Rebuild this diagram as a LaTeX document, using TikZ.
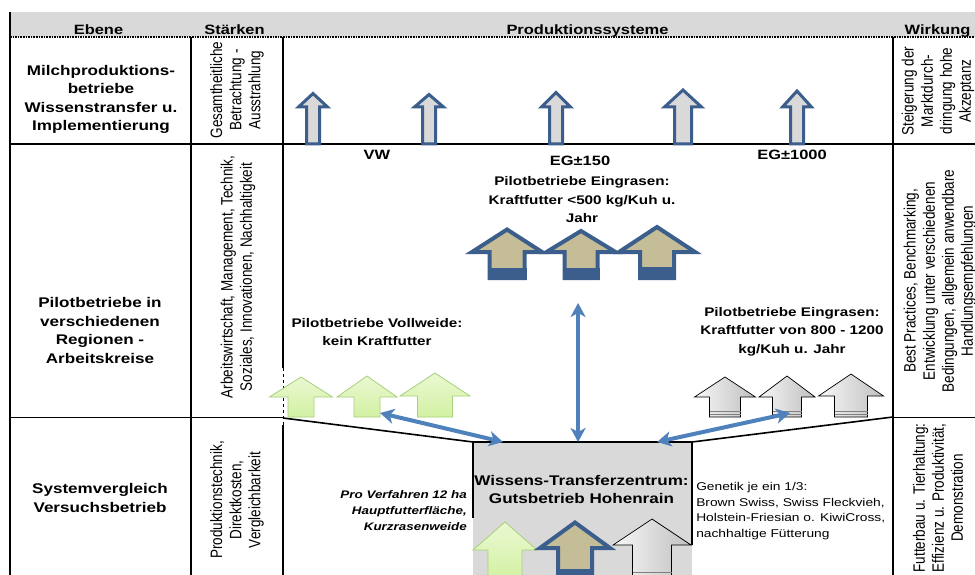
\documentclass[tikz,border=0pt]{standalone}
\usepackage{fontspec}
\setmainfont{Liberation Sans}
\usetikzlibrary{arrows.meta}
\definecolor{hdrgray}{HTML}{D9D9D9}
\definecolor{arrblue}{HTML}{3B5E8C}
\definecolor{tanfill}{HTML}{C4BD97}
\definecolor{connblue}{HTML}{4F81BD}
\definecolor{greenfill}{HTML}{D2F1A2}
\definecolor{greenlight}{HTML}{EAF8D2}
\definecolor{greenline}{HTML}{A6D07A}
\definecolor{boxgray}{HTML}{D9D9D9}

\newcommand\UpShape[7]{\path[#1] ({#2},{#3}) -- ({#2+#4},{#6}) -- ({#2+#5},{#6}) -- ({#2+#5},{#7}) -- ({#2-#5},{#7}) -- ({#2-#5},{#6}) -- ({#2-#4},{#6}) -- cycle;}

\tikzset{
  hdr/.style={font=\bfseries\fontsize{13.5}{16}\selectfont, inner sep=0pt, anchor=base},
  lvl/.style={font=\bfseries\fontsize{14}{18.5}\selectfont, align=center, inner sep=0pt},
  vtxt/.style={rotate=90, font=\fontsize{13.5}{15.6}\selectfont, align=center, inner sep=0pt},
  lab/.style={font=\bfseries\fontsize{12.5}{18.5}\selectfont, align=center, inner sep=0pt},
  sys/.style={font=\bfseries\fontsize{13.5}{16}\selectfont, inner sep=0pt, anchor=base},
  gentxt/.style={font=\fontsize{11.3}{15.5}\selectfont, align=left, inner sep=0pt, anchor=west},
  notetxt/.style={font=\bfseries\itshape\fontsize{11}{16}\selectfont, align=right, inner sep=0pt, anchor=east},
  heavy/.style={line width=2.2pt},
  thinrule/.style={line width=0.9pt},
  bluearr/.style={draw=arrblue, line width=3pt, fill=hdrgray, miter limit=20},
  tanarr/.style={draw=arrblue, line width=4pt, fill=tanfill, miter limit=20},
  greenarr/.style={draw=greenline, line width=0.8pt, top color=greenlight, bottom color=greenfill},
  grayarr/.style={draw=black, line width=0.7pt, left color=gray!6, right color=gray!50},
  conn/.style={draw=connblue, line width=4pt, {Stealth[length=14pt,width=15pt,inset=4pt]}-{Stealth[length=14pt,width=15pt,inset=4pt]}},
}

\begin{document}
\begin{tikzpicture}[x=0.819672pt, y=-1pt, xscale=1.22, transform shape]
\useasboundingbox (0,0) rectangle (975,575);
\fill[white] (0,0) rectangle (975,575);
% header band
\fill[hdrgray] (10,12) rectangle (975,37);
\draw[line width=1.6pt, densely dotted] (10,37) -- (975,37);
% grid
\draw[heavy] (10,12) -- (10,575);
\draw[heavy] (191,37) -- (191,575);
\draw[heavy] (283,37) -- (283,368);
\draw[thinrule, dashed] (283,368) -- (283,425);
\draw[heavy] (283,425) -- (283,575);
\draw[heavy] (893,37) -- (893,575);
\draw[heavy] (10,144) -- (975,144);
\draw[thinrule] (10,417) -- (283,417);
\draw[thick] (893,417) -- (975,417);
\draw[line width=1.6pt] (283,418) -- (473,442);
\draw[line width=1.6pt] (692,442) -- (893,417);
% transfer centre box
\fill[boxgray] (473,442) rectangle (692,580);
\draw[line width=2.2pt] (473,518) -- (473,442) -- (692,442) -- (692,545);

% row 1 arrows
\UpShape{bluearr}{313}{93.5}{14.5}{6.5}{107}{144}
\UpShape{bluearr}{429}{94.5}{14.5}{6.5}{107}{144}
\UpShape{bluearr}{556}{92.5}{14.5}{6.5}{107}{144}
\UpShape{bluearr}{683}{90}{18.5}{8.5}{107}{144}
\UpShape{bluearr}{797}{91}{14.5}{6.5}{107}{144}

% row 2 tan arrows
\UpShape{tanarr}{507}{229.5}{35}{17.5}{252}{278}
\fill[arrblue] (487.5,268) rectangle (526.5,280);
\UpShape{tanarr}{581}{231}{34.5}{16.5}{252}{278}
\fill[arrblue] (562.5,268) rectangle (599.5,280);
\UpShape{tanarr}{657}{227}{38}{17}{252}{278}
\fill[arrblue] (638,267) rectangle (676,280);

% row 2 green arrows
\UpShape{greenarr}{301}{377}{31.5}{13}{397}{417}
\UpShape{greenarr}{367}{376}{30}{13}{397}{417}
\UpShape{greenarr}{435}{373}{35}{17.5}{396}{417}

% row 2 gray arrows
\UpShape{grayarr}{725}{377}{30.5}{15.5}{397}{417}
\UpShape{grayarr}{787}{376}{28}{14.5}{397}{417}
\UpShape{grayarr}{851}{374}{32.5}{16.5}{396}{417}
\foreach \cx/\sh in {725/15.5, 787/14.5, 851/16.5}{
  \draw[gray, line width=0.6pt] ({\cx-\sh},411) -- ({\cx+\sh},411);
  \draw[gray, line width=0.6pt] ({\cx-\sh},414) -- ({\cx+\sh},414);
}

% arrows inside the box
\UpShape{greenarr}{505}{522}{32}{17}{550}{580}
\UpShape{tanarr}{575}{522.5}{35}{17}{548}{580}
\fill[arrblue] (558,569) rectangle (592,580);
\UpShape{grayarr}{652}{519}{39}{19.5}{545}{580}
\draw[gray, line width=0.6pt] (632.5,572) -- (671.5,572);

% connectors
\coordinate (cL1) at (380,413);
\coordinate (cL2) at (503,442);
\coordinate (cV1) at (578,303);
\coordinate (cV2) at (578,442);
\coordinate (cR1) at (657,442);
\coordinate (cR2) at (790,413);
\draw[conn] (cL1) -- (cL2);
\draw[conn] (cV1) -- (cV2);
\draw[conn] (cR1) -- (cR2);

% header texts
\node[hdr] (hEbene) at (98.5,34.3) {Ebene};
\node[hdr] (hStaerken) at (234.5,34.3) {Stärken};
\node[hdr] (hProd) at (587.5,34.3) {Produktionssysteme};
\node[hdr] (hWirk) at (937.5,34.3) {Wirkung};

% Ebene column
\node[lvl] (e1) at (101,99.5) {Milchproduktions-\\betriebe\\Wissenstransfer u.\\Implementierung};
\node[lvl] (e2) at (100,330.5) {Pilotbetriebe in\\verschiedenen\\Regionen -\\Arbeitskreise};
\node[lvl] (e3) at (100,498) {Systemvergleich\\Versuchsbetrieb};

% Staerken column
\node[vtxt] (s1) at (237,90) {Gesamtheitliche\\Betrachtung -\\Ausstrahlung};
\node[vtxt] (s2) at (238,277) {Arbeitswirtschaft, Management, Technik,\\Soziales, Innovationen, Nachhaltigkeit};
\node[vtxt] (s3) at (237,500) {Produktionstechnik,\\Direktkosten,\\Vergleichbarkeit};

% Wirkung column
\node[vtxt] (w1) at (938,91) {Steigerung der\\Marktdurch-\\dringung hohe\\Akzeptanz};
\node[vtxt] (w2) at (940,281) {Best Practices, Benchmarking,\\Entwicklung unter verschiedenen\\Bedingungen, allgemein anwendbare\\Handlungsempfehlungen};
\node[vtxt] (w3) at (938,498) {Futterbau u. Tierhaltung:\\Effizienz u. Produktivität,\\Demonstration};

% production system labels
\node[sys] (vw) at (377,160) {VW};
\node[sys] (eg150) at (580,166) {EG±150};
\node[sys] (eg1000) at (792,160) {EG±1000};
\node[lab] (pEin1) at (582,200) {Pilotbetriebe Eingrasen:\\Kraftfutter <500 kg/Kuh u.\\Jahr};
\node[lab] (pVoll) at (377,332) {Pilotbetriebe Vollweide:\\kein Kraftfutter};
\node[lab] (pEin2) at (792,331.5) {Pilotbetriebe Eingrasen:\\Kraftfutter von 800 - 1200\\kg/Kuh u. Jahr};

% row 3 texts
\node[lvl] (wtz) at (581.5,489.5) {Wissens-Transferzentrum:\\Gutsbetrieb Hohenrain};
\node[notetxt] (pro) at (467,511) {Pro Verfahren 12 ha\\Hauptfutterfläche,\\Kurzrasenweide};
\node[gentxt] (gen) at (696,511) {Genetik je ein 1/3:\\Brown Swiss, Swiss Fleckvieh,\\Holstein-Friesian o. KiwiCross,\\nachhaltige Fütterung};
\end{tikzpicture}
\end{document}
